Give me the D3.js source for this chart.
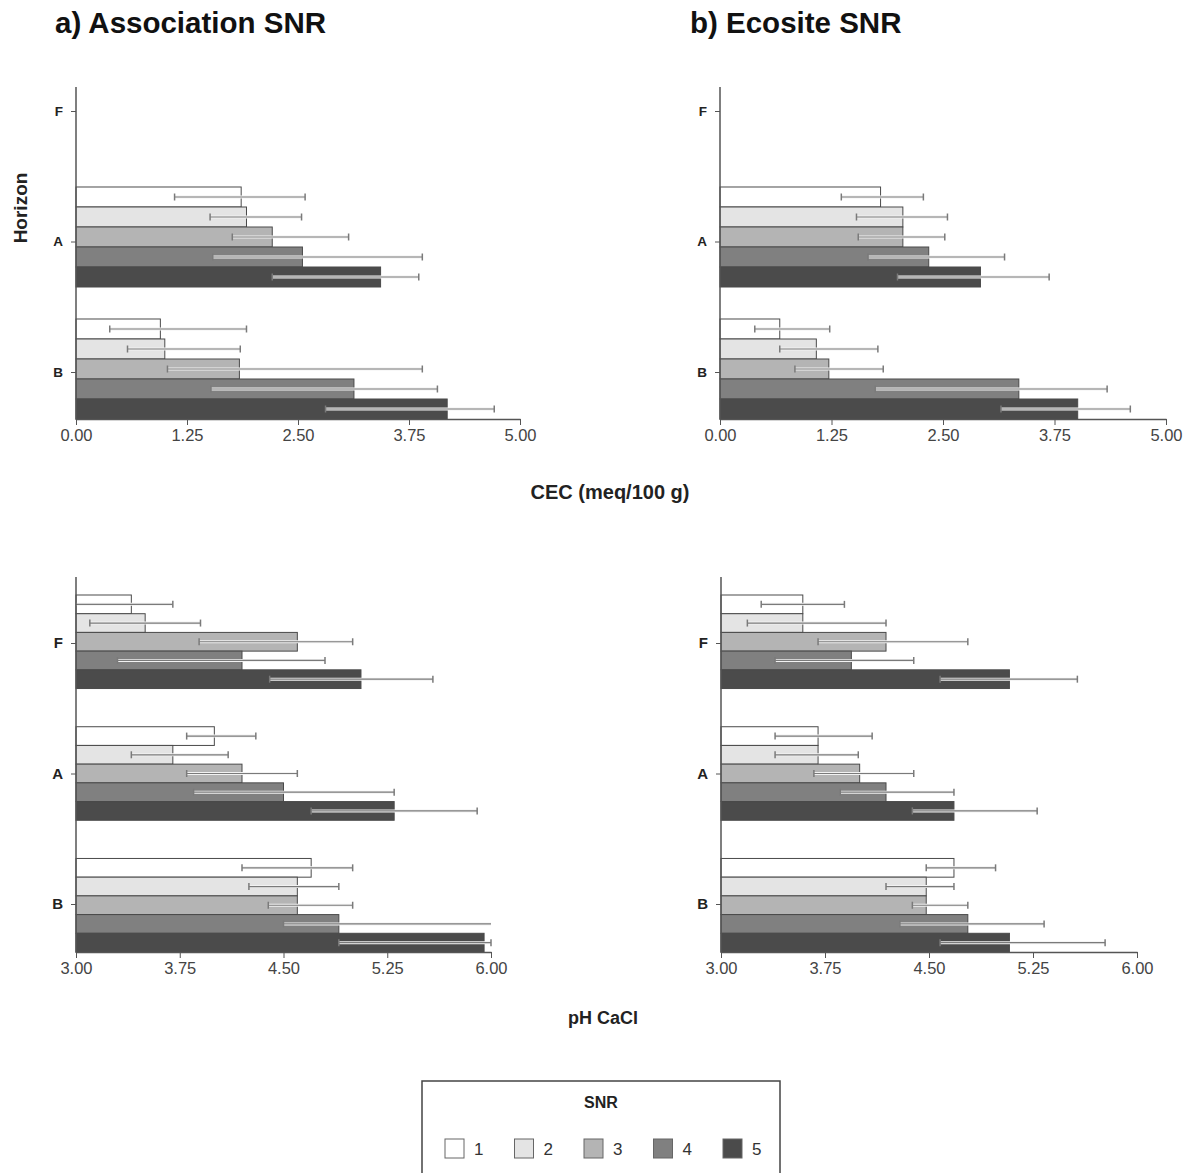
<!DOCTYPE html>
<html>
<head>
<meta charset="utf-8">
<script src="https://cdn.jsdelivr.net/npm/d3@7"></script>
<style>
  html, body { margin: 0; padding: 0; background: #fff; }
  svg text { font-family: "Liberation Sans", Arial, sans-serif; }
</style>
</head>
<body>
<div id="chart"></div>
<script>
// Categories
const horizons = ["F", "A", "B"];
const snrClasses = ["1", "2", "3", "4", "5"];
const snrColors = ["#ffffff", "#e4e4e4", "#b4b4b4", "#808080", "#4b4b4b"];

const cecTicks = [0, 1.25, 2.5, 3.75, 5];
const phTicks = [3, 3.75, 4.5, 5.25, 6];

// CEC, association SNR (rows F, A, B; F has no data)
const cecAssocMean = [null, [1.86, 1.92, 2.21, 2.55, 3.43], [0.95, 1.00, 1.84, 3.13, 4.18]];
const cecAssocLo   = [null, [1.11, 1.51, 1.76, 1.54, 2.21], [0.38, 0.58, 1.03, 1.52, 2.81]];
const cecAssocHi   = [null, [2.58, 2.54, 3.07, 3.90, 3.86], [1.92, 1.85, 3.90, 4.07, 4.71]];

// CEC, ecosite SNR
const cecEcoMean = [null, [1.80, 2.05, 2.05, 2.34, 2.92], [0.67, 1.08, 1.22, 3.35, 4.01]];
const cecEcoLo   = [null, [1.36, 1.53, 1.55, 1.66, 1.99], [0.39, 0.67, 0.84, 1.74, 3.15]];
const cecEcoHi   = [null, [2.28, 2.55, 2.52, 3.19, 3.69], [1.23, 1.77, 1.83, 4.34, 4.60]];

// pH CaCl, association SNR
const phAssocMean = [[3.40, 3.50, 4.60, 4.20, 5.06], [4.00, 3.70, 4.20, 4.50, 5.30], [4.70, 4.60, 4.60, 4.90, 5.95]];
const phAssocLo   = [[2.90, 3.10, 3.89, 3.30, 4.40], [3.80, 3.40, 3.80, 3.85, 4.70], [4.20, 4.25, 4.39, 4.50, 4.90]];
const phAssocHi   = [[3.70, 3.90, 5.00, 4.80, 5.58], [4.30, 4.10, 4.60, 5.30, 5.90], [5.00, 4.90, 5.00, 6.30, 6.00]];

// pH CaCl, ecosite SNR
const phEcoMean = [[3.59, 3.59, 4.19, 3.94, 5.08], [3.70, 3.70, 4.00, 4.19, 4.68], [4.68, 4.48, 4.48, 4.78, 5.08]];
const phEcoLo   = [[3.29, 3.19, 3.70, 3.39, 4.58], [3.39, 3.39, 3.67, 3.86, 4.38], [4.48, 4.19, 4.38, 4.29, 4.58]];
const phEcoHi   = [[3.89, 4.19, 4.78, 4.39, 5.57], [4.09, 3.99, 4.39, 4.68, 5.28], [4.98, 4.68, 4.78, 5.33, 5.77]];

const width = 1188, height = 1173;

const svg = d3.select("#chart").append("svg")
  .attr("width", width)
  .attr("height", height);

const axisColor = "#555";
const errColor = "#7a7a7a";

function drawPanel(p) {
  const g = svg.append("g");

  const x = d3.scaleLinear().domain(p.domain).range([p.x0, p.x1]);
  const y = d3.scaleBand().domain(horizons)
    .range([p.bandTop, p.axisY])
    .paddingInner(p.padInner)
    .paddingOuter(0);
  const inner = d3.scaleBand().domain(snrClasses).range([0, y.bandwidth()]);
  // tick positions of the horizon labels sit a little off the group centres
  const yTick = d3.scalePoint().domain(horizons).range(p.tickRange);

  // bars
  horizons.forEach((h, hi) => {
    const row = p.mean[hi];
    if (!row) return;
    snrClasses.forEach((s, si) => {
      g.append("rect")
        .attr("x", x(p.domain[0]))
        .attr("y", y(h) + inner(s))
        .attr("width", x(row[si]) - x(p.domain[0]))
        .attr("height", inner.bandwidth())
        .attr("fill", snrColors[si])
        .attr("stroke", "#4a4a4a")
        .attr("stroke-width", 1);
    });
  });

  // error bars
  horizons.forEach((h, hi) => {
    const row = p.mean[hi];
    if (!row) return;
    snrClasses.forEach((s, si) => {
      const lo = p.lo[hi][si], up = p.hi[hi][si];
      const cy = y(h) + inner(s) + inner.bandwidth() / 2;
      const xa = x(Math.max(lo, p.domain[0]));
      const xb = x(Math.min(up, p.domain[1]));
      const caps = [];
      if (lo >= p.domain[0]) caps.push(xa);
      if (up <= p.domain[1]) caps.push(xb);
      // light halo so the line reads on dark bars
      g.append("line")
        .attr("x1", xa).attr("x2", xb).attr("y1", cy).attr("y2", cy)
        .attr("stroke", "#f2f2f2").attr("stroke-width", 3);
      g.append("line")
        .attr("x1", xa).attr("x2", xb).attr("y1", cy).attr("y2", cy)
        .attr("stroke", errColor).attr("stroke-width", 1.2);
      caps.forEach(cx => {
        g.append("line")
          .attr("x1", cx).attr("x2", cx).attr("y1", cy - 3.5).attr("y2", cy + 3.5)
          .attr("stroke", errColor).attr("stroke-width", 1.5);
      });
    });
  });

  // x axis
  const xAxis = g.append("g")
    .attr("transform", `translate(0,${p.axisY})`)
    .call(d3.axisBottom(x).tickValues(p.ticks).tickFormat(d3.format(".2f")).tickSize(6).tickSizeOuter(0));
  xAxis.select(".domain").attr("stroke", axisColor).attr("stroke-width", 1.5);
  xAxis.selectAll(".tick line").attr("stroke", axisColor).attr("stroke-width", 1);
  xAxis.selectAll(".tick text")
    .attr("font-size", 16.5)
    .attr("fill", "#444")
    .attr("dy", "0.8em");

  // y axis
  const yAxis = g.append("g")
    .attr("transform", `translate(${p.x0},0)`)
    .call(d3.axisLeft(yTick).tickSize(5).tickPadding(8));
  yAxis.select(".domain").remove();
  yAxis.selectAll(".tick line").attr("stroke", axisColor).attr("stroke-width", 1);
  yAxis.selectAll(".tick text")
    .attr("font-size", p.labelSize)
    .attr("font-weight", "bold")
    .attr("fill", "#222");
  g.append("line")
    .attr("x1", p.x0).attr("x2", p.x0)
    .attr("y1", p.axisTop).attr("y2", p.axisY + 0.75)
    .attr("stroke", axisColor).attr("stroke-width", 1.5);
}

const topPanel = { axisTop: 87, axisY: 419, bandTop: 55, padInner: 0.2424, tickRange: [111, 372], labelSize: 13.5 };
const botPanel = { axisTop: 577, axisY: 952, bandTop: 595, padInner: 0.29, tickRange: [643, 904], labelSize: 15 };

drawPanel(Object.assign({}, topPanel, { x0: 76, x1: 520, domain: [0, 5], ticks: cecTicks,
  mean: cecAssocMean, lo: cecAssocLo, hi: cecAssocHi }));
drawPanel(Object.assign({}, topPanel, { x0: 720, x1: 1166, domain: [0, 5], ticks: cecTicks,
  mean: cecEcoMean, lo: cecEcoLo, hi: cecEcoHi }));
drawPanel(Object.assign({}, botPanel, { x0: 76, x1: 491, domain: [3, 6], ticks: phTicks,
  mean: phAssocMean, lo: phAssocLo, hi: phAssocHi }));
drawPanel(Object.assign({}, botPanel, { x0: 721, x1: 1137, domain: [3, 6], ticks: phTicks,
  mean: phEcoMean, lo: phEcoLo, hi: phEcoHi }));

// titles
svg.append("text").attr("x", 55).attr("y", 33)
  .attr("font-size", 29.5).attr("font-weight", "bold").attr("fill", "#111")
  .text("a) Association SNR");
svg.append("text").attr("x", 690).attr("y", 33)
  .attr("font-size", 29.5).attr("font-weight", "bold").attr("fill", "#111")
  .text("b) Ecosite SNR");

svg.append("text")
  .attr("transform", "translate(27,208) rotate(-90)")
  .attr("text-anchor", "middle")
  .attr("font-size", 19).attr("font-weight", "bold").attr("fill", "#222")
  .text("Horizon");

svg.append("text").attr("x", 610).attr("y", 499)
  .attr("text-anchor", "middle")
  .attr("font-size", 20).attr("font-weight", "bold").attr("fill", "#222")
  .text("CEC (meq/100 g)");
svg.append("text").attr("x", 603).attr("y", 1024)
  .attr("text-anchor", "middle")
  .attr("font-size", 18).attr("font-weight", "bold").attr("fill", "#222")
  .text("pH CaCl");

// legend
const legend = svg.append("g");
legend.append("rect")
  .attr("x", 422).attr("y", 1081).attr("width", 358).attr("height", 120)
  .attr("fill", "#fff").attr("stroke", "#444").attr("stroke-width", 1.5);
legend.append("text").attr("x", 601).attr("y", 1108)
  .attr("text-anchor", "middle")
  .attr("font-size", 16).attr("font-weight", "bold").attr("fill", "#222")
  .text("SNR");
const lx = d3.scalePoint().domain(snrClasses).range([445, 723]);
snrClasses.forEach((s, i) => {
  legend.append("rect")
    .attr("x", lx(s)).attr("y", 1139).attr("width", 19).attr("height", 19)
    .attr("fill", snrColors[i]).attr("stroke", "#666").attr("stroke-width", 1);
  legend.append("text")
    .attr("x", lx(s) + 29).attr("y", 1155)
    .attr("font-size", 17).attr("fill", "#333")
    .text(s);
});
</script>
</body>
</html>
